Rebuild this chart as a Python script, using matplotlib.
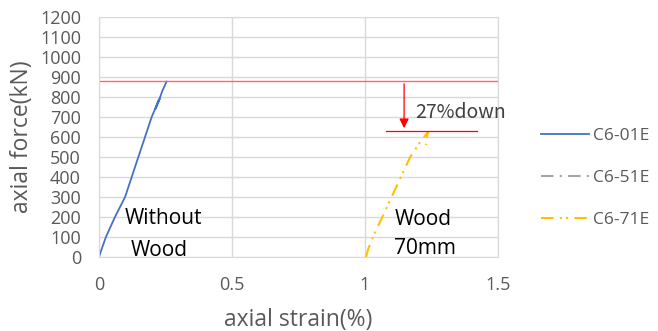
import matplotlib
matplotlib.use("Agg")
import matplotlib.pyplot as plt

# Data
c601_strain = [0.0, 0.01, 0.026, 0.06, 0.098, 0.123, 0.148, 0.173, 0.198, 0.214, 0.228, 0.222, 0.212, 0.222, 0.238, 0.254]
c601_force = [0, 40, 100, 200, 300, 400, 500, 600, 700, 750, 790, 780, 740, 770, 830, 877]
c651_strain = []
c651_force = []
c671_strain = [1.004, 1.012, 1.03, 1.065, 1.10, 1.135, 1.17, 1.205, 1.237, 1.233, 1.229]
c671_force = [0, 40, 100, 200, 300, 400, 500, 570, 625, 600, 560]
peak_ref = 880
peak_wood = 630

xticks = [0, 0.5, 1, 1.5]
yticks = list(range(0, 1300, 100))

plt.rcParams['font.family'] = ['Open Sans', 'DejaVu Sans']
fig = plt.figure(figsize=(6.58, 3.31), dpi=100)
ax = fig.add_axes([99/658, 1-257/331, 399/658, 240/331])

grid_c = '#d9d9d9'
ax.set_xlim(0, 1.5)
ax.set_ylim(0, 1200)
ax.set_xticks(xticks)
ax.set_xticklabels(['0', '0.5', '1', '1.5'])
ax.set_yticks(yticks)
ax.grid(True, color=grid_c, linewidth=1)
ax.set_axisbelow(True)
for s in ax.spines.values():
    s.set_color(grid_c)
ax.tick_params(length=0, colors='#595959', labelsize=13)
ax.tick_params(axis='x', pad=14)
ax.tick_params(axis='y', pad=13)

ax.plot(c601_strain, c601_force, color='#4472C4', lw=1.3, label='C6-01E')
ax.plot(c651_strain, c651_force, color='#A5A5A5', lw=1.5, dashes=[6, 3, 1, 3], label='C6-51E')
ax.plot(c671_strain, c671_force, color='#FFC000', lw=1.5, dashes=[6, 3, 1, 2, 1, 3], label='C6-71E')

ax.axhline(peak_ref, color='#FF6666', lw=1)
ax.plot([1.079, 1.421], [peak_wood, peak_wood], color='#FF0000', lw=0.9)
ax.annotate('', xy=(1.147, peak_wood), xytext=(1.147, peak_ref),
            arrowprops=dict(arrowstyle='-|>', color='#FF0000', lw=0.9, mutation_scale=14))
ax.text(1.187, 720, '27%down', fontsize=14, color='#404040', va='center',
        family=['Noto Sans CJK JP', 'DejaVu Sans'])

ax.text(0.095, 190, 'Without', fontsize=15, color='black', va='center')
ax.text(0.12, 35, 'Wood', fontsize=15, color='black', va='center')
ax.text(1.11, 188, 'Wood', fontsize=15, color='black', va='center')
ax.text(1.11, 45, '70mm', fontsize=15, color='black', va='center')

ax.set_xlabel('axial strain(%)', fontsize=16.5, color='#595959', labelpad=10)
ax.set_ylabel('axial force(kN)', fontsize=16.5, color='#595959', labelpad=4)

leg = fig.legend(loc='upper left', bbox_to_anchor=(525/658, 1-112/331), frameon=False,
                 fontsize=12.5, labelcolor='#595959', handlelength=2.8, handletextpad=0.2,
                 labelspacing=1.5)

fig.savefig('out.png', dpi=100)
